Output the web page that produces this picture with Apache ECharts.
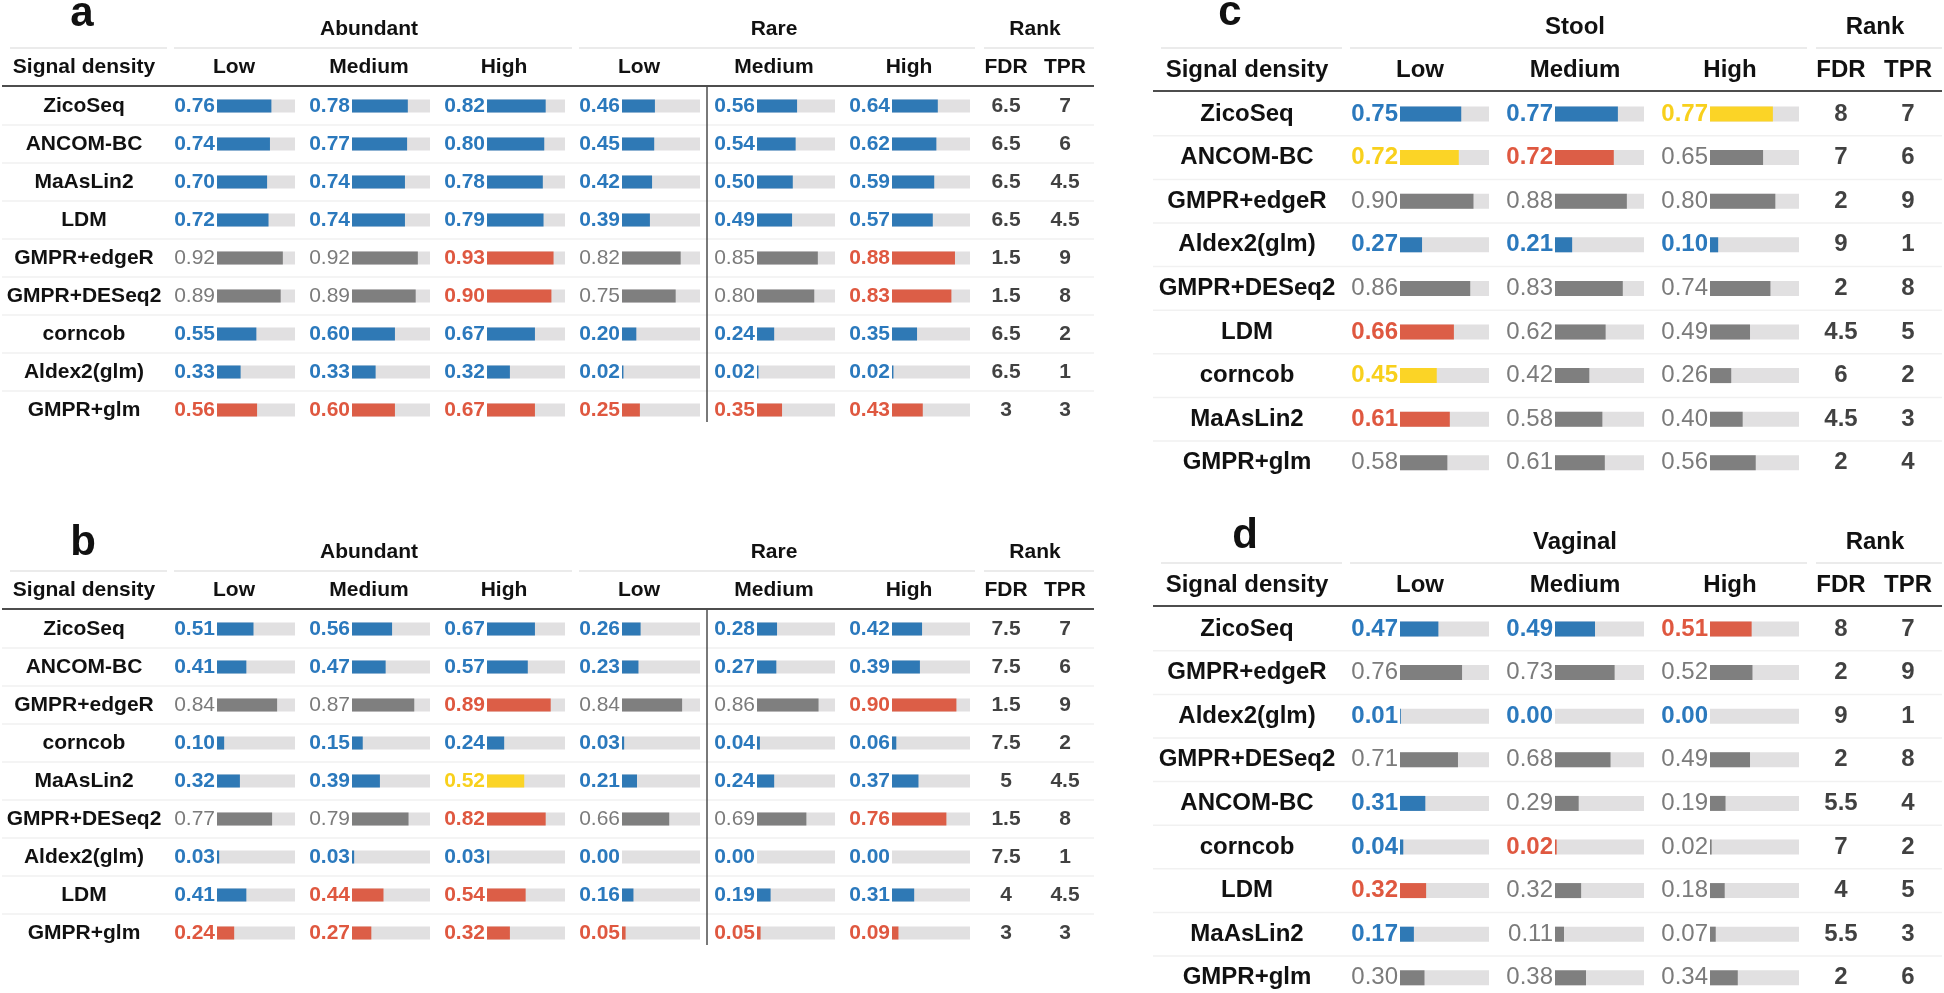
<!DOCTYPE html>
<html><head><meta charset="utf-8">
<script src="https://cdn.jsdelivr.net/npm/echarts@6/dist/echarts.min.js"></script>
<style>html,body{margin:0;padding:0;background:#fff}#c{width:1944px;height:993px}</style>
</head><body><div id="c"></div>
<script>
// ---------------- DATA ----------------
// Panel a
const aMethods = ['ZicoSeq','ANCOM-BC','MaAsLin2','LDM','GMPR+edgeR','GMPR+DESeq2','corncob','Aldex2(glm)','GMPR+glm'];
const aAbundantLow  = [0.76,0.74,0.70,0.72,0.92,0.89,0.55,0.33,0.56];
const aAbundantMed  = [0.78,0.77,0.74,0.74,0.92,0.89,0.60,0.33,0.60];
const aAbundantHigh = [0.82,0.80,0.78,0.79,0.93,0.90,0.67,0.32,0.67];
const aRareLow      = [0.46,0.45,0.42,0.39,0.82,0.75,0.20,0.02,0.25];
const aRareMed      = [0.56,0.54,0.50,0.49,0.85,0.80,0.24,0.02,0.35];
const aRareHigh     = [0.64,0.62,0.59,0.57,0.88,0.83,0.35,0.02,0.43];
const aFDR = ['6.5','6.5','6.5','6.5','1.5','1.5','6.5','6.5','3'];
const aTPR = ['7','6','4.5','4.5','9','8','2','1','3'];
// category per cell: b=blue, g=gray, r=red, y=yellow
const aCodes = ['bbbbbb','bbbbbb','bbbbbb','bbbbbb','ggrggr','ggrggr','bbbbbb','bbbbbb','rrrrrr'];

// Panel b
const bMethods = ['ZicoSeq','ANCOM-BC','GMPR+edgeR','corncob','MaAsLin2','GMPR+DESeq2','Aldex2(glm)','LDM','GMPR+glm'];
const bAbundantLow  = [0.51,0.41,0.84,0.10,0.32,0.77,0.03,0.41,0.24];
const bAbundantMed  = [0.56,0.47,0.87,0.15,0.39,0.79,0.03,0.44,0.27];
const bAbundantHigh = [0.67,0.57,0.89,0.24,0.52,0.82,0.03,0.54,0.32];
const bRareLow      = [0.26,0.23,0.84,0.03,0.21,0.66,0.00,0.16,0.05];
const bRareMed      = [0.28,0.27,0.86,0.04,0.24,0.69,0.00,0.19,0.05];
const bRareHigh     = [0.42,0.39,0.90,0.06,0.37,0.76,0.00,0.31,0.09];
const bFDR = ['7.5','7.5','1.5','7.5','5','1.5','7.5','4','3'];
const bTPR = ['7','6','9','2','4.5','8','1','4.5','3'];
const bCodes = ['bbbbbb','bbbbbb','ggrggr','bbbbbb','bbybbb','ggrggr','bbbbbb','brrbbb','rrrrrr'];

// Panel c (Stool)
const cMethods = ['ZicoSeq','ANCOM-BC','GMPR+edgeR','Aldex2(glm)','GMPR+DESeq2','LDM','corncob','MaAsLin2','GMPR+glm'];
const cLow  = [0.75,0.72,0.90,0.27,0.86,0.66,0.45,0.61,0.58];
const cMed  = [0.77,0.72,0.88,0.21,0.83,0.62,0.42,0.58,0.61];
const cHigh = [0.77,0.65,0.80,0.10,0.74,0.49,0.26,0.40,0.56];
const cFDR = ['8','7','2','9','2','4.5','6','4.5','2'];
const cTPR = ['7','6','9','1','8','5','2','3','4'];
const cCodes = ['bby','yrg','ggg','bbb','ggg','rgg','ygg','rgg','ggg'];

// Panel d (Vaginal)
const dMethods = ['ZicoSeq','GMPR+edgeR','Aldex2(glm)','GMPR+DESeq2','ANCOM-BC','corncob','LDM','MaAsLin2','GMPR+glm'];
const dLow  = [0.47,0.76,0.01,0.71,0.31,0.04,0.32,0.17,0.30];
const dMed  = [0.49,0.73,0.00,0.68,0.29,0.02,0.32,0.11,0.38];
const dHigh = [0.51,0.52,0.00,0.49,0.19,0.02,0.18,0.07,0.34];
const dFDR = ['8','2','9','2','5.5','7','4','5.5','2'];
const dTPR = ['7','9','1','8','4','2','5','3','6'];
const dCodes = ['bbr','ggg','bbb','ggg','bgg','brg','rgg','bgg','ggg'];

const densityLabels = ['Low','Medium','High'];
const rankLabels = ['FDR','TPR'];

// ---------------- STYLE / LAYOUT ----------------
const FONT = '"Liberation Sans", Arial, Helvetica, sans-serif';
const COLORS = {
  b: {bar:'#2f79b5', text:'#2b79bd'},
  r: {bar:'#dc5e47', text:'#df5840'},
  g: {bar:'#7f7f7f', text:'#7b7b7b'},
  y: {bar:'#fbd426', text:'#f8d01c'}
};
const TRACK = '#e1e0e1';
const AXMAX = 1.09;

const grids = [], xAxes = [], yAxes = [], series = [], graphics = [];

function addText(text, x, y, size, weight, color, align) {
  graphics.push({type:'text', x:x, y:y, silent:true, z:10,
    style:{text:text, fill:color||'#111', font:(weight||'bold')+' '+size+'px '+FONT,
      textAlign:align||'center', textVerticalAlign:'middle', align:align||'center', verticalAlign:'middle'}});
}
function addLine(x1,y1,x2,y2,color,w) {
  graphics.push({type:'line', silent:true, z:1, shape:{x1:x1,y1:y1,x2:x2,y2:y2}, style:{stroke:color, lineWidth:w}});
}

function buildPanel(P) {
  const n = P.methods.length;
  const top = P.rowY0 - P.rowH/2;
  P.cols.forEach(function(vals, j){
    const gi = grids.length;
    grids.push({left:P.barX[j], top:top, width:P.trackW, height:n*P.rowH, containLabel:false, outerBoundsMode:'none'});
    xAxes.push({type:'value', gridIndex:gi, min:0, max:AXMAX, show:false});
    yAxes.push({type:'category', gridIndex:gi, data:P.methods, inverse:true, show: j===0,
      axisLine:{show:false}, axisTick:{show:false}, splitLine:{show:false},
      axisLabel: j===0 ? {show:true, margin:P.barX[0]-P.nameX, align:'center', fontSize:P.fs, fontWeight:'bold', color:'#111', fontFamily:FONT} : {show:false}});
    series.push({type:'bar', xAxisIndex:gi, yAxisIndex:gi, barWidth:P.barH, showBackground:true,
      backgroundStyle:{color:TRACK}, silent:true,
      label:{show:true, position:'left', distance:2, fontSize:P.fs, fontFamily:FONT,
        formatter:function(p){return Number(p.value).toFixed(2);}},
      data: vals.map(function(v,i){
        const code = P.codes[i][j]; const c = COLORS[code];
        return {value:v, itemStyle:{color:c.bar}, label:{color:c.text, fontWeight: code==='g'?'normal':'bold'}};
      })
    });
  });
  // rank columns
  const gi = grids.length;
  const bw = P.rankX[1]-P.rankX[0];
  grids.push({left:P.rankX[0]-bw/2, top:top, width:2*bw, height:n*P.rowH, containLabel:false, outerBoundsMode:'none'});
  xAxes.push({type:'category', gridIndex:gi, data:rankLabels, show:false});
  yAxes.push({type:'category', gridIndex:gi, data:P.methods, inverse:true, show:false});
  const rd = [];
  P.methods.forEach(function(m,i){ rd.push([0,i,P.fdr[i]]); rd.push([1,i,P.tpr[i]]); });
  series.push({type:'scatter', xAxisIndex:gi, yAxisIndex:gi, symbolSize:1, silent:true,
    itemStyle:{color:'rgba(0,0,0,0)'},
    label:{show:true, position:'inside', fontSize:P.fs, fontWeight:'bold', color:'#111', fontFamily:FONT,
      formatter:function(p){return p.value[2];}},
    data: rd});

  // texts
  addText(P.letter, P.letterX, P.letterY, P.letterSize, 'bold');
  P.groups.forEach(function(g){ addText(g[0], g[1], P.groupY, P.fs); });
  addText('Signal density', P.nameX, P.headY, P.fs);
  P.colHeads.forEach(function(x,j){ addText(P.colHeadText[j], x, P.headY, P.fs); });
  addText(rankLabels[0], P.rankX[0], P.headY, P.fs);
  addText(rankLabels[1], P.rankX[1], P.headY, P.fs);
  // lines
  P.unders.forEach(function(s){ addLine(s[0], P.underY, s[1], P.underY, '#ebebeb', 2); });
  addLine(P.lineX[0], P.thickY, P.lineX[1], P.thickY, '#4d4d4d', 2);
  for (let k=0;k<n-1;k++){ const y = P.rowY0 + (k+0.5)*P.rowH; addLine(P.lineX[0], y, P.lineX[1], y, '#f1f1f1', 1.5); }
  if (P.vline) addLine(P.vline.x, P.thickY, P.vline.x, P.vline.y1, '#4d4d4d', 1.5);
}

const abLayout = function(dy, letter, letterX, letterY){ return {
  letter:letter, letterX:letterX, letterY:letterY, letterSize:42,
  nameX:84, barX:[217,352,487,622,757,892], trackW:78, barH:13,
  rankX:[1006,1065], rowY0:106+dy, rowH:38, fs:21,
  groupY:29+dy, underY:48+dy, headY:67+dy, thickY:86+dy,
  lineX:[2,1094],
  unders:[[10,167],[174,572],[579,975],[984,1094]],
  groups:[['Abundant',369],['Rare',774],['Rank',1035]],
  colHeads:[234,369,504,639,774,909],
  colHeadText:densityLabels.concat(densityLabels),
  vline:{x:707, y1:422+dy}
};};
const cdLayout = function(dy, letter, letterX, letterY, group){ return {
  letter:letter, letterX:letterX, letterY:letterY, letterSize:42,
  nameX:1247, barX:[1400,1555,1710], trackW:89, barH:15,
  rankX:[1841,1908], rowY0:114+dy, rowH:43.6, fs:24,
  groupY:27+dy, underY:48+dy, headY:70+dy, thickY:91+dy,
  lineX:[1153,1942],
  unders:[[1161,1342],[1350,1807],[1816,1942]],
  groups:[[group,1575],['Rank',1875]],
  colHeads:[1420,1575,1730],
  colHeadText:densityLabels
};};

buildPanel(Object.assign(abLayout(0,'a',82,14), {methods:aMethods, cols:[aAbundantLow,aAbundantMed,aAbundantHigh,aRareLow,aRareMed,aRareHigh], codes:aCodes, fdr:aFDR, tpr:aTPR}));
buildPanel(Object.assign(abLayout(523,'b',83,543), {methods:bMethods, cols:[bAbundantLow,bAbundantMed,bAbundantHigh,bRareLow,bRareMed,bRareHigh], codes:bCodes, fdr:bFDR, tpr:bTPR}));
buildPanel(Object.assign(cdLayout(0,'c',1230,13,'Stool'), {methods:cMethods, cols:[cLow,cMed,cHigh], codes:cCodes, fdr:cFDR, tpr:cTPR}));
buildPanel(Object.assign(cdLayout(515,'d',1245,536,'Vaginal'), {methods:dMethods, cols:[dLow,dMed,dHigh], codes:dCodes, fdr:dFDR, tpr:dTPR}));

const chart = echarts.init(document.getElementById('c'), null, {renderer:'canvas'});
chart.setOption({
  animation:false,
  backgroundColor:'#ffffff',
  grid:grids, xAxis:xAxes, yAxis:yAxes, series:series,
  graphic:{elements:graphics}
});
</script>
</body></html>
